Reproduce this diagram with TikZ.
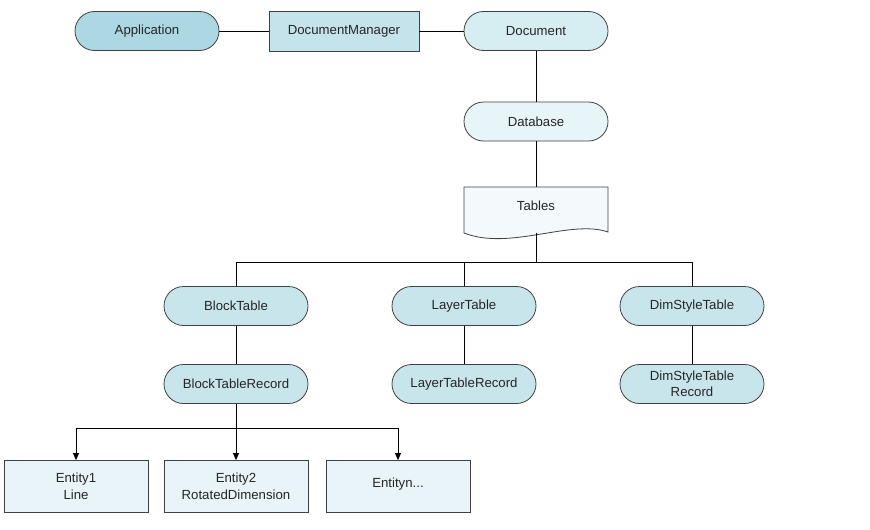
\documentclass[tikz,border=0pt]{standalone}
\usepackage{fontspec}
\setmainfont{Liberation Sans}
\usetikzlibrary{arrows.meta}
\definecolor{edge}{RGB}{64,64,64}
\definecolor{appfill}{RGB}{172,216,228}
\definecolor{mgrfill}{RGB}{197,227,235}
\definecolor{docfill}{RGB}{214,237,242}
\definecolor{dbfill}{RGB}{232,245,248}
\definecolor{tblfill}{RGB}{244,250,252}
\definecolor{midfill}{RGB}{200,229,236}
\definecolor{entfill}{RGB}{232,244,248}
\begin{document}
\begin{tikzpicture}[x=1pt,y=-1pt,
  font=\fontsize{13.2}{15}\selectfont,
  every node/.style={inner sep=0pt, align=center, text=black!85},
  pill/.style={draw=edge, line width=0.8pt, rounded corners=19.5pt,
    minimum width=144pt, minimum height=39pt},
  box/.style={draw=edge, line width=0.8pt, minimum width=144pt, minimum height=52pt},
  link/.style={draw=black, line width=0.8pt},
  arrowlink/.style={link, -{Triangle[length=7pt,width=6pt]}}]
\useasboundingbox (0,0) rectangle (870,530);

% top row
\node[pill, fill=appfill] (app) at (147,31) {Application};
\node[draw=edge, line width=0.8pt, fill=mgrfill, minimum width=150pt, minimum height=40pt] (mgr) at (344,31) {DocumentManager};
\node[pill, fill=docfill] (doc) at (536,31) {Document};

% database and table document shape
\node[pill, fill=dbfill] (db) at (536,121.5) {Database};
\filldraw[draw=edge, line width=0.8pt, fill=tblfill]
  (464,187) -- (608,187) -- (608,232)
  .. controls (570,219) and (510,251) .. (464,233) -- cycle;
\node[minimum width=144pt, minimum height=46pt] (tables) at (536,210) {};
\node at (536,206) {Tables};

% table nodes
\node[pill, fill=midfill] (bt) at (236,306) {BlockTable};
\node[pill, fill=midfill] (lt) at (464,306) {LayerTable};
\node[pill, fill=midfill] (dt) at (692,306) {DimStyleTable};
\node[pill, fill=midfill] (btr) at (236,384) {BlockTableRecord};
\node[pill, fill=midfill] (ltr) at (464,384) {LayerTableRecord};
\node[pill, fill=midfill, font=\fontsize{13.2}{15.5}\selectfont] (dtr) at (692,384) {DimStyleTable\\Record};

% entities
\node[box, fill=entfill, font=\fontsize{13.2}{17}\selectfont] (e1) at (76,486.5) {Entity1\\Line};
\node[box, fill=entfill, font=\fontsize{13.2}{17}\selectfont] (e2) at (236,486.5) {Entity2\\RotatedDimension};
\node[box, fill=entfill] (en) at (398,486.5) {\raisebox{8pt}{Entityn...}};

\coordinate (bus) at (536,262);
\coordinate (ebus) at (236,428);

% connectors
\draw[link] (app.east) -- (mgr.west);
\draw[link] (mgr.east) -- (doc.west);
\draw[link] (doc.south) -- (db.north);
\draw[link] (db.south) -- (tables.north);
\draw[link] (tables.south) -- (bus);
\draw[link] (bus) -| (bt.north);
\draw[link] (bus) -| (lt.north);
\draw[link] (bus) -| (dt.north);
\draw[link] (bt.south) -- (btr.north);
\draw[link] (lt.south) -- (ltr.north);
\draw[link] (dt.south) -- (dtr.north);
\draw[link] (btr.south) -- (ebus);
\draw[arrowlink] (ebus) -| (e1.north);
\draw[arrowlink] (ebus) -- (e2.north);
\draw[arrowlink] (ebus) -| (en.north);
\end{tikzpicture}
\end{document}
